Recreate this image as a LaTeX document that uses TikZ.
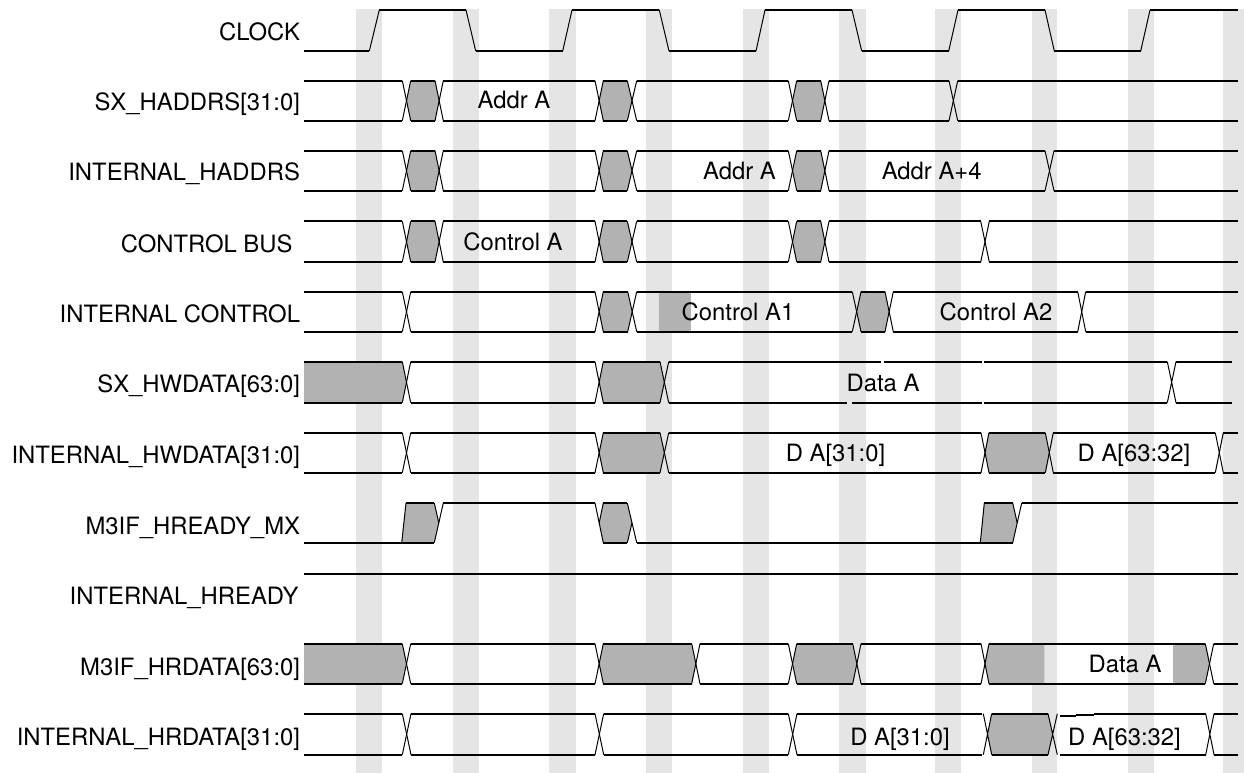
\documentclass[tikz,border=0pt]{standalone}
\usepackage{fontspec}
\setmainfont{TeX Gyre Heros}
\definecolor{band}{HTML}{E5E5E5}
\definecolor{unk}{HTML}{B2B2B2}
\tikzset{
  sig/.style={line width=1.7pt,black},
  xline/.style={line width=1pt,black},
  bandfill/.style={fill=band,draw=none},
  unkfill/.style={fill=unk,draw=none},
  siglabel/.style={anchor=base east,inner sep=0pt,outer sep=0pt},
  buslabel/.style={anchor=base,inner sep=0pt,outer sep=0pt},
}
% top, bottom, list of crossings a/b (an item a/a ends the row with no crossing)
\newcommand\BusRow[3]{%
  \foreach \a/\b [remember=\b as \prv (initially 304)] in {#3} {
    \draw[sig] (\prv,#1) -- (\a,#1);
    \draw[sig] (\prv,#2) -- (\a,#2);
    \ifdim\a pt=\b pt\else
      \draw[xline] (\a,#1) -- (\b,#2);
      \draw[xline] (\a,#2) -- (\b,#1);
    \fi
  }}
% top, bottom, a, b, c, d : undefined region between crossings a/b and c/d
\newcommand\Unk[6]{%
  \fill[unkfill] (#4,#1) -- (#5,#1) -- ({(#5+#6)/2},{(#1+#2)/2}) -- (#5,#2) -- (#4,#2) -- ({(#3+#4)/2},{(#1+#2)/2}) -- cycle;}
\begin{document}
\begin{tikzpicture}[x=1pt,y=-1pt,line join=miter,font=\fontsize{23.85}{26}\selectfont]
\useasboundingbox (0,0) rectangle (1244,773);
% bands
\foreach \l/\r in {356/382,453/479,549/576,646/672,743/769,839/866,935/961,1032/1057,1128/1154,1223/1244}
  \fill[bandfill] (\l,9) rectangle (\r,773);

% grey regions
\Unk{80.7}{120.7}{402.3}{410.7}{435}{443.3}
\Unk{80.7}{120.7}{595}{603.3}{627.3}{636.7}
\Unk{80.7}{120.7}{788.3}{796.7}{820.7}{829}
\Unk{150.7}{190.7}{402.3}{410.7}{435}{443.3}
\Unk{150.7}{190.7}{595}{603.3}{627.3}{636.7}
\Unk{150.7}{190.7}{788.3}{796.7}{820.7}{829}
\Unk{221.3}{262}{402.3}{410.7}{435}{443.3}
\Unk{221.3}{262}{595}{603.3}{627.3}{636.7}
\Unk{221.3}{262}{788.3}{796.7}{820.7}{829}
\Unk{291.7}{331.7}{595}{603.3}{627.3}{636.7}
\fill[unkfill] (659,291.7) rectangle (691,331.7);
\Unk{291.7}{331.7}{852.3}{861}{885}{893.3}
\Unk{361.7}{402.7}{304}{304}{402.3}{410.7}
\Unk{361.7}{402.7}{595}{603.3}{660}{668.7}
\Unk{432.7}{472.7}{595}{603.3}{660}{668.7}
\Unk{432.7}{472.7}{981}{989}{1045.3}{1053.3}
\Unk{643.7}{683.7}{304}{304}{402.3}{410.7}
\Unk{643.7}{683.7}{595}{603.3}{691.7}{700}
\Unk{643.7}{683.7}{788.3}{796.7}{852.7}{861}
\fill[unkfill] (989,643.7) -- (1044.3,643.7) -- (1044.3,683.7) -- (989,683.7) -- (985,663.7) -- cycle;
\fill[unkfill] (1173,643.7) -- (1205.3,643.7) -- (1209.5,663.7) -- (1205.3,683.7) -- (1173,683.7) -- cycle;
\Unk{713.7}{754.7}{983.3}{991.7}{1048}{1057.3}
% M3IF_HREADY grey
\fill[unkfill] (401.7,542.7) -- (406,503) -- (434.3,503) -- (438.8,522.8) -- (434.3,542.7) -- cycle;
\Unk{503}{542.7}{595}{603.3}{627.5}{636.7}
\fill[unkfill] (980.3,542.7) -- (984.3,503) -- (1012.7,503) -- (1017.2,522.8) -- (1012.7,542.7) -- cycle;

% CLOCK
\draw[sig] (304,51) -- (369.3,51);
\draw[xline] (369.3,51) -- (379.3,10);
\draw[sig] (379.3,10) -- (466,10);
\draw[xline] (466,10) -- (475.7,51);
\draw[sig] (475.7,51) -- (562.7,51);
\draw[xline] (562.7,51) -- (572,10);
\draw[sig] (572,10) -- (659.3,10);
\draw[xline] (659.3,10) -- (669,51);
\draw[sig] (669,51) -- (756,51);
\draw[xline] (756,51) -- (765,10);
\draw[sig] (765,10) -- (852,10);
\draw[xline] (852,10) -- (861.7,51);
\draw[sig] (861.7,51) -- (948.7,51);
\draw[xline] (948.7,51) -- (958,10);
\draw[sig] (958,10) -- (1045,10);
\draw[xline] (1045,10) -- (1054.3,51);
\draw[sig] (1054.3,51) -- (1140.7,51);
\draw[xline] (1140.7,51) -- (1150,10);
\draw[sig] (1150,10) -- (1237.7,10);

% buses
\BusRow{80.7}{120.7}{402.3/410.7,435/443.3,595/603.3,627.3/636.7,788.3/796.7,820.7/829,949/957.7,1237.7/1237.7}
\BusRow{150.7}{190.7}{402.3/410.7,435/443.3,595/603.3,627.3/636.7,788.3/796.7,820.7/829,1045/1054,1237.7/1237.7}
\BusRow{221.3}{262}{402.3/410.7,435/443.3,595/603.3,627.3/636.7,788.3/796.7,820.7/829,980.7/989.3,1237.7/1237.7}
\BusRow{291.7}{331.7}{402.3/410.7,595/603.3,627.7/636.7,852.3/861,885/893.3,1077.7/1085.7,1237.7/1237.7}
% SX_HWDATA, with its breaks
\BusRow{361.7}{402.7}{402.3/410.7,595/603.3,660/668.7}
\draw[sig] (668.7,361.7) -- (880.7,361.7) (884,361.7) -- (981.7,361.7);
\draw[sig] (668.7,402.7) -- (847.3,402.7) (852,402.7) -- (981.7,402.7);
\draw[sig] (984.3,361.7) -- (1167.3,361.7) (984.3,402.7) -- (1167.3,402.7);
\draw[xline] (1167.3,361.7) -- (1176,402.7) (1167.3,402.7) -- (1176,361.7);
\draw[sig] (1176,361.7) -- (1231.7,361.7) (1176,402.7) -- (1231.7,402.7);
\BusRow{432.7}{472.7}{402.3/410.7,595/603.3,660/668.7,981/989,1045.3/1053.3,1215.3/1223.3,1237.7/1237.7}
% M3IF_HREADY_MX
\draw[sig] (304,542.7) -- (434.3,542.7);
\draw[xline] (401.7,542.7) -- (406,503);
\draw[sig] (406,503) -- (434.3,503);
\draw[xline] (434.3,542.7) -- (443.3,503);
\draw[xline] (434.3,503) -- (438.8,522.8);
\draw[sig] (443.3,503) -- (595,503);
\draw[xline] (595,503) -- (603.3,542.7);
\draw[xline] (603.3,503) -- (599.2,522.8);
\draw[sig] (603.3,503) -- (627.3,503);
\draw[sig] (603.3,542.7) -- (627.3,542.7);
\draw[xline] (627.3,503) -- (636.7,542.7);
\draw[xline] (627.3,542.7) -- (632,522.8);
\draw[sig] (636.7,542.7) -- (1012.7,542.7);
\draw[xline] (980.3,542.7) -- (984.3,503);
\draw[sig] (984.3,503) -- (1012.7,503);
\draw[xline] (1012.7,542.7) -- (1021.7,503);
\draw[xline] (1012.7,503) -- (1017.2,522.8);
\draw[sig] (1021.7,503) -- (1237.7,503);
% INTERNAL_HREADY
\draw[sig] (304,573.7) -- (1237.7,573.7);
\BusRow{643.7}{683.7}{402.3/410.7,595/603.3,691.7/700,788.3/796.7,852.7/861,981/989,1205.3/1213.7,1237.7/1237.7}
% INTERNAL_HRDATA
\BusRow{713.7}{754.7}{402.3/411,595/603.7,788.3/797,981.7/981.7}
\draw[xline] (983.3,713.7) -- (991.7,754.7) (983.3,754.7) -- (991.7,713.7);
\draw[sig] (991.7,713.7) -- (1048,713.7) (991.7,754.7) -- (1048,754.7);
\draw[xline] (1048,713.7) -- (1057.3,754.7) (1048,754.7) -- (1057.3,713.7);
\draw[sig] (1060,716) -- (1076,716);
\draw[line width=2.4pt] (1076,715) -- (1094,715);
\draw[sig] (1094,713.7) -- (1205.7,713.7);
\draw[sig] (1060,754.7) -- (1205.7,754.7);
\draw[xline] (1205.7,713.7) -- (1214,754.7) (1205.7,754.7) -- (1214,713.7);
\draw[sig] (1214,713.7) -- (1237.7,713.7) (1214,754.7) -- (1237.7,754.7);

% signal names
\node[siglabel] (l1) at (300,41) {CLOCK};
\node[siglabel] (l2) at (300,110.5) {SX\_HADDRS[31:0]};
\node[siglabel] (l3) at (300,180.5) {INTERNAL\_HADDRS};
\node[siglabel] (l4) at (292.5,252) {CONTROL BUS};
\node[siglabel] (l5) at (300,322.5) {INTERNAL CONTROL};
\node[siglabel] (l6) at (300,392.5) {SX\_HWDATA[63:0]};
\node[siglabel] (l7) at (300,463) {INTERNAL\_HWDATA[31:0]};
\node[siglabel] (l8) at (300,534) {M3IF\_HREADY\_MX};
\node[siglabel] (l9) at (298.5,604.5) {INTERNAL\_HREADY};
\node[siglabel] (l10) at (300,675) {M3IF\_HRDATA[63:0]};
\node[siglabel] (l11) at (300,745.5) {INTERNAL\_HRDATA[31:0]};

% bus values
\node[buslabel] (v1) at (514,108.7) {Addr A};
\node[buslabel] (v2) at (739.5,179.7) {Addr A};
\node[buslabel] (v3) at (931.7,179.7) {Addr A+4};
\node[buslabel] (v4) at (513,250.7) {Control A};
\node[buslabel] (v5) at (738,320) {Control A1};
\node[buslabel] (v6) at (996,320) {Control A2};
\node[buslabel] (v7) at (883,391.7) {Data A};
\node[buslabel] (v8) at (835.5,461.7) {D A[31:0]};
\node[buslabel] (v9) at (1134,461.7) {D A[63:32]};
\node[buslabel] (v10) at (1125,672.4) {Data A};
\node[buslabel] (v11) at (900,745.7) {D A[31:0]};
\node[buslabel] (v12) at (1124.5,745.7) {D A[63:32]};
\end{tikzpicture}
\end{document}
